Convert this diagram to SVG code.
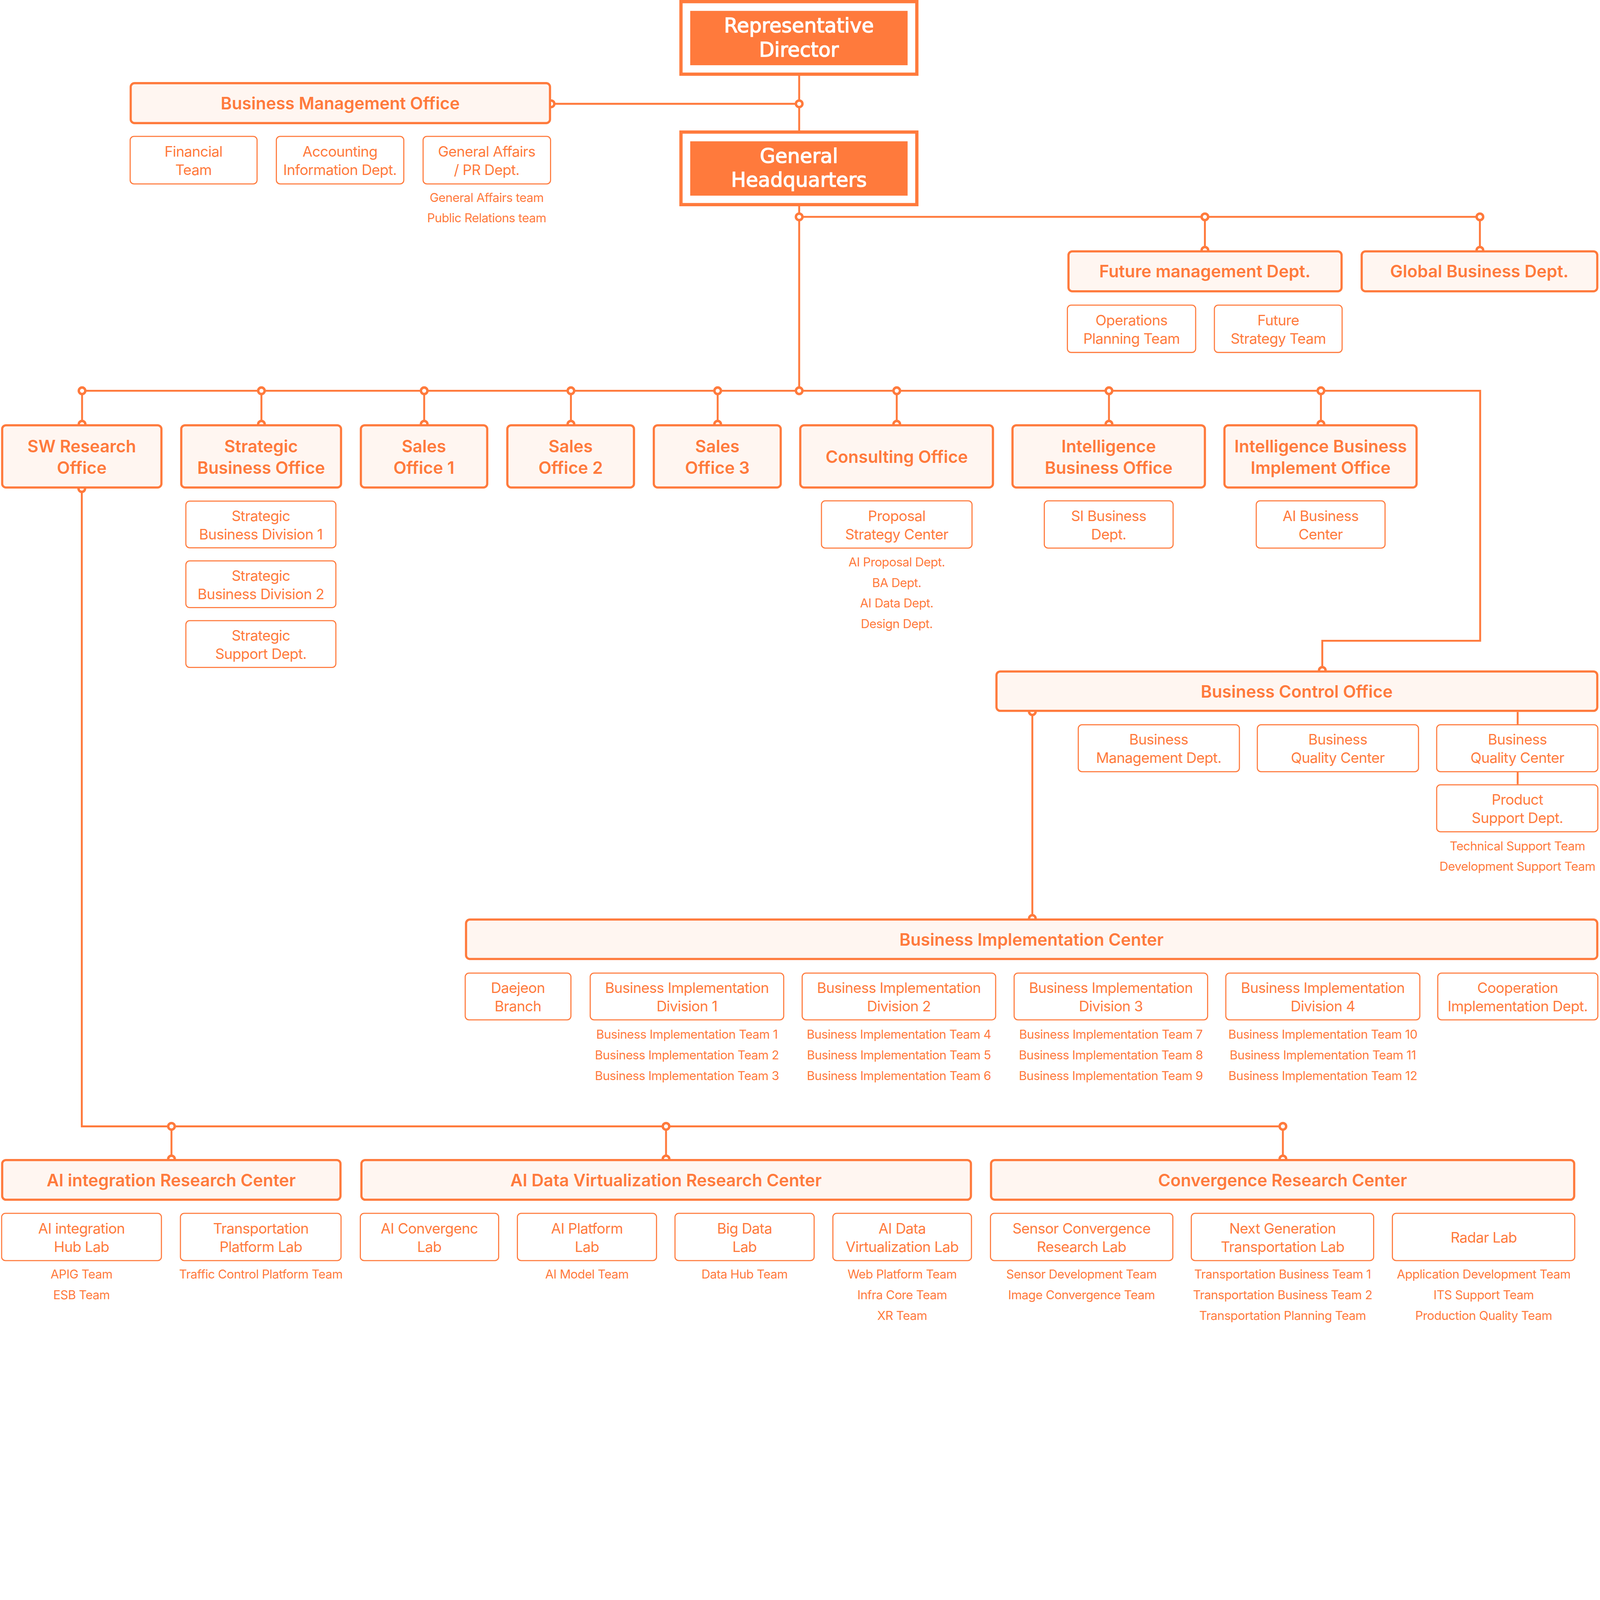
<svg xmlns="http://www.w3.org/2000/svg" width="5888" height="4870" viewBox="0 0 5888 4870" preserveAspectRatio="xMidYMin meet" style="width:100vw;height:100vh;display:block">
<style>
.bg{fill:#ffffff}
.t{fill:#FFF6F1;stroke:#FF7A3C;stroke-width:8}
.s{fill:#ffffff;stroke:#FF7A3C;stroke-width:4}
.ln{fill:none;stroke:#FF7A3C;stroke-width:7}
.j{fill:#ffffff;stroke:#FF7A3C;stroke-width:9}
.top{fill:#ffffff;stroke:#FF7A3C;stroke-width:12}
.topin{fill:#FF7A3C}
.tt{font-family:Inter,"Noto Sans",sans-serif;font-weight:600;font-size:62px;fill:#FF7A3C;text-anchor:middle}
.st{font-family:Inter,"Noto Sans",sans-serif;font-weight:400;font-size:53px;letter-spacing:-1px;fill:#FF7A3C;text-anchor:middle}
.sm{font-family:Inter,"Noto Sans",sans-serif;font-weight:400;font-size:45px;letter-spacing:-0.8px;fill:#FF7A3C;text-anchor:middle}
.ht{font-family:"DejaVu Sans",sans-serif;font-weight:400;font-size:73px;fill:#ffffff;stroke:#ffffff;stroke-width:2.5px;text-anchor:middle}
</style>
<rect class="bg" x="0" y="0" width="5888" height="4870"/>

<g id="connectors">
<line class="ln" x1="2941" y1="279" x2="2941" y2="480"/>
<line class="ln" x1="2028" y1="382" x2="2941" y2="382"/>
<line class="ln" x1="2941" y1="759" x2="2941" y2="1438"/>
<line class="ln" x1="2941" y1="798" x2="5446" y2="798"/>
<line class="ln" x1="4434" y1="798" x2="4434" y2="921"/>
<line class="ln" x1="5446" y1="798" x2="5446" y2="921"/>
<polyline class="ln" points="302,1438 5447,1438 5447,2358 4866,2358 4866,2467"/>
<line class="ln" x1="302" y1="1438" x2="302" y2="1561"/>
<line class="ln" x1="962" y1="1438" x2="962" y2="1561"/>
<line class="ln" x1="1561" y1="1438" x2="1561" y2="1561"/>
<line class="ln" x1="2101" y1="1438" x2="2101" y2="1561"/>
<line class="ln" x1="2641" y1="1438" x2="2641" y2="1561"/>
<line class="ln" x1="3300" y1="1438" x2="3300" y2="1561"/>
<line class="ln" x1="4081" y1="1438" x2="4081" y2="1561"/>
<line class="ln" x1="4861" y1="1438" x2="4861" y2="1561"/>
<polyline class="ln" points="301,1798 301,4145 4721,4145"/>
<line class="ln" x1="631" y1="4145" x2="631" y2="4265"/>
<line class="ln" x1="2451" y1="4145" x2="2451" y2="4265"/>
<line class="ln" x1="4721" y1="4145" x2="4721" y2="4265"/>
<line class="ln" x1="3799" y1="2619" x2="3799" y2="3380"/>
<line class="ln" x1="5585" y1="2620" x2="5585" y2="2665"/>
<line class="ln" x1="5585" y1="2842" x2="5585" y2="2886"/>
<g id="junctions">
<circle class="j" cx="2028" cy="382" r="12"/>
<circle class="j" cx="2941" cy="382" r="12"/>
<circle class="j" cx="2941" cy="798" r="12"/>
<circle class="j" cx="4434" cy="798" r="12"/>
<circle class="j" cx="5446" cy="798" r="12"/>
<circle class="j" cx="4434" cy="921" r="12"/>
<circle class="j" cx="5446" cy="921" r="12"/>
<circle class="j" cx="302" cy="1438" r="12"/>
<circle class="j" cx="962" cy="1438" r="12"/>
<circle class="j" cx="1561" cy="1438" r="12"/>
<circle class="j" cx="2101" cy="1438" r="12"/>
<circle class="j" cx="2641" cy="1438" r="12"/>
<circle class="j" cx="2941" cy="1438" r="12"/>
<circle class="j" cx="3300" cy="1438" r="12"/>
<circle class="j" cx="4081" cy="1438" r="12"/>
<circle class="j" cx="4861" cy="1438" r="12"/>
<circle class="j" cx="302" cy="1561" r="12"/>
<circle class="j" cx="962" cy="1561" r="12"/>
<circle class="j" cx="1561" cy="1561" r="12"/>
<circle class="j" cx="2101" cy="1561" r="12"/>
<circle class="j" cx="2641" cy="1561" r="12"/>
<circle class="j" cx="3300" cy="1561" r="12"/>
<circle class="j" cx="4081" cy="1561" r="12"/>
<circle class="j" cx="4861" cy="1561" r="12"/>
<circle class="j" cx="301" cy="1798" r="12"/>
<circle class="j" cx="4866" cy="2467" r="12"/>
<circle class="j" cx="3799" cy="2619" r="12"/>
<circle class="j" cx="3799" cy="3380" r="12"/>
<circle class="j" cx="631" cy="4145" r="12"/>
<circle class="j" cx="2451" cy="4145" r="12"/>
<circle class="j" cx="4721" cy="4145" r="12"/>
<circle class="j" cx="631" cy="4265" r="12"/>
<circle class="j" cx="2451" cy="4265" r="12"/>
<circle class="j" cx="4721" cy="4265" r="12"/>
</g>
</g>

<g id="rep-director">
<rect class="top" x="2506" y="6" width="868" height="267"/>
<rect class="topin" x="2540" y="40" width="800" height="200"/>
<text class="ht" x="2940" y="120">Representative</text>
<text class="ht" x="2940" y="208">Director</text>
</g>
<g id="general-hq">
<rect class="top" x="2506" y="486" width="868" height="267"/>
<rect class="topin" x="2540" y="520" width="800" height="200"/>
<text class="ht" x="2940" y="600">General</text>
<text class="ht" x="2940" y="687">Headquarters</text>
</g>

<g id="bmo">
<rect class="t" x="481" y="306" width="1543" height="147" rx="14"/>
<text class="tt" x="1252" y="402">Business Management Office</text>
</g>
<g id="financial-team">
<rect class="s" x="479" y="502" width="467" height="175" rx="14"/>
<text class="st" x="712" y="576">Financial</text>
<text class="st" x="712" y="644">Team</text>
</g>
<g id="accounting">
<rect class="s" x="1017" y="502" width="469" height="175" rx="14"/>
<text class="st" x="1251" y="576">Accounting</text>
<text class="st" x="1251" y="644">Information Dept.</text>
</g>
<g id="general-affairs">
<rect class="s" x="1557" y="502" width="469" height="175" rx="14"/>
<text class="st" x="1791" y="576">General Affairs</text>
<text class="st" x="1791" y="644">/ PR Dept.</text>
<text class="sm" x="1791" y="743">General Affairs team</text>
<text class="sm" x="1791" y="818">Public Relations team</text>
</g>

<g id="future-mgmt">
<rect class="t" x="3932" y="925" width="1005" height="147" rx="14"/>
<text class="tt" x="4434" y="1021">Future management Dept.</text>
</g>
<g id="global-business">
<rect class="t" x="5011" y="925" width="867" height="147" rx="14"/>
<text class="tt" x="5444" y="1021">Global Business Dept.</text>
</g>
<g id="ops-planning">
<rect class="s" x="3928" y="1123" width="472" height="174" rx="14"/>
<text class="st" x="4164" y="1197">Operations</text>
<text class="st" x="4164" y="1265">Planning Team</text>
</g>
<g id="future-strategy">
<rect class="s" x="4469" y="1123" width="470" height="174" rx="14"/>
<text class="st" x="4704" y="1197">Future</text>
<text class="st" x="4704" y="1265">Strategy Team</text>
</g>

<g id="sw-research">
<rect class="t" x="8" y="1565" width="586" height="229" rx="14"/>
<text class="tt" x="301" y="1664">SW Research</text>
<text class="tt" x="301" y="1744">Office</text>
</g>
<g id="strategic-office">
<rect class="t" x="667" y="1565" width="588" height="229" rx="14"/>
<text class="tt" x="961" y="1664">Strategic</text>
<text class="tt" x="961" y="1744">Business Office</text>
</g>
<g id="sales1">
<rect class="t" x="1328" y="1565" width="465" height="229" rx="14"/>
<text class="tt" x="1560" y="1664">Sales</text>
<text class="tt" x="1560" y="1744">Office 1</text>
</g>
<g id="sales2">
<rect class="t" x="1867" y="1565" width="466" height="229" rx="14"/>
<text class="tt" x="2100" y="1664">Sales</text>
<text class="tt" x="2100" y="1744">Office 2</text>
</g>
<g id="sales3">
<rect class="t" x="2406" y="1565" width="467" height="229" rx="14"/>
<text class="tt" x="2640" y="1664">Sales</text>
<text class="tt" x="2640" y="1744">Office 3</text>
</g>
<g id="consulting">
<rect class="t" x="2945" y="1565" width="709" height="229" rx="14"/>
<text class="tt" x="3300" y="1704">Consulting Office</text>
</g>
<g id="intelligence-office">
<rect class="t" x="3726" y="1565" width="708" height="229" rx="14"/>
<text class="tt" x="4080" y="1664">Intelligence</text>
<text class="tt" x="4080" y="1744">Business Office</text>
</g>
<g id="intelligence-implement">
<rect class="t" x="4506" y="1565" width="707" height="229" rx="14"/>
<text class="tt" x="4860" y="1664">Intelligence Business</text>
<text class="tt" x="4860" y="1744">Implement Office</text>
</g>

<g id="sbd1">
<rect class="s" x="684" y="1844" width="552" height="172" rx="14"/>
<text class="st" x="960" y="1917">Strategic</text>
<text class="st" x="960" y="1985">Business Division 1</text>
</g>
<g id="sbd2">
<rect class="s" x="684" y="2064" width="552" height="172" rx="14"/>
<text class="st" x="960" y="2137">Strategic</text>
<text class="st" x="960" y="2205">Business Division 2</text>
</g>
<g id="ssd">
<rect class="s" x="684" y="2284" width="552" height="172" rx="14"/>
<text class="st" x="960" y="2357">Strategic</text>
<text class="st" x="960" y="2425">Support Dept.</text>
</g>
<g id="proposal">
<rect class="s" x="3023" y="1843" width="554" height="174" rx="14"/>
<text class="st" x="3300" y="1917">Proposal</text>
<text class="st" x="3300" y="1985">Strategy Center</text>
<text class="sm" x="3300" y="2085">AI Proposal Dept.</text>
<text class="sm" x="3300" y="2160">BA Dept.</text>
<text class="sm" x="3300" y="2236">AI Data Dept.</text>
<text class="sm" x="3300" y="2312">Design Dept.</text>
</g>
<g id="si-business">
<rect class="s" x="3843" y="1843" width="474" height="174" rx="14"/>
<text class="st" x="4080" y="1917">SI Business</text>
<text class="st" x="4080" y="1985">Dept.</text>
</g>
<g id="ai-business">
<rect class="s" x="4623" y="1843" width="474" height="174" rx="14"/>
<text class="st" x="4860" y="1917">AI Business</text>
<text class="st" x="4860" y="1985">Center</text>
</g>

<g id="bco">
<rect class="t" x="3667" y="2471" width="2211" height="145" rx="14"/>
<text class="tt" x="4772" y="2567">Business Control Office</text>
</g>
<g id="bmd">
<rect class="s" x="3968" y="2667" width="593" height="173" rx="14"/>
<text class="st" x="4264" y="2740">Business</text>
<text class="st" x="4264" y="2808">Management Dept.</text>
</g>
<g id="bqc1">
<rect class="s" x="4627" y="2667" width="593" height="173" rx="14"/>
<text class="st" x="4923" y="2740">Business</text>
<text class="st" x="4923" y="2808">Quality Center</text>
</g>
<g id="bqc2">
<rect class="s" x="5287" y="2667" width="593" height="173" rx="14"/>
<text class="st" x="5584" y="2740">Business</text>
<text class="st" x="5584" y="2808">Quality Center</text>
</g>
<g id="psd">
<rect class="s" x="5287" y="2888" width="593" height="173" rx="14"/>
<text class="st" x="5584" y="2961">Product</text>
<text class="st" x="5584" y="3029">Support Dept.</text>
<text class="sm" x="5584" y="3129">Technical Support Team</text>
<text class="sm" x="5584" y="3204">Development Support Team</text>
</g>

<g id="bic">
<rect class="t" x="1715" y="3384" width="4163" height="145" rx="14"/>
<text class="tt" x="3796" y="3480">Business Implementation Center</text>
</g>
<g id="daejeon">
<rect class="s" x="1712" y="3581" width="389" height="172" rx="14"/>
<text class="st" x="1906" y="3654">Daejeon</text>
<text class="st" x="1906" y="3722">Branch</text>
</g>
<g id="bid1">
<rect class="s" x="2172" y="3581" width="712" height="172" rx="14"/>
<text class="st" x="2528" y="3654">Business Implementation</text>
<text class="st" x="2528" y="3722">Division 1</text>
<text class="sm" x="2528" y="3823">Business Implementation Team 1</text>
<text class="sm" x="2528" y="3899">Business Implementation Team 2</text>
<text class="sm" x="2528" y="3975">Business Implementation Team 3</text>
</g>
<g id="bid2">
<rect class="s" x="2952" y="3581" width="712" height="172" rx="14"/>
<text class="st" x="3308" y="3654">Business Implementation</text>
<text class="st" x="3308" y="3722">Division 2</text>
<text class="sm" x="3308" y="3823">Business Implementation Team 4</text>
<text class="sm" x="3308" y="3899">Business Implementation Team 5</text>
<text class="sm" x="3308" y="3975">Business Implementation Team 6</text>
</g>
<g id="bid3">
<rect class="s" x="3732" y="3581" width="712" height="172" rx="14"/>
<text class="st" x="4088" y="3654">Business Implementation</text>
<text class="st" x="4088" y="3722">Division 3</text>
<text class="sm" x="4088" y="3823">Business Implementation Team 7</text>
<text class="sm" x="4088" y="3899">Business Implementation Team 8</text>
<text class="sm" x="4088" y="3975">Business Implementation Team 9</text>
</g>
<g id="bid4">
<rect class="s" x="4511" y="3581" width="714" height="172" rx="14"/>
<text class="st" x="4868" y="3654">Business Implementation</text>
<text class="st" x="4868" y="3722">Division 4</text>
<text class="sm" x="4868" y="3823">Business Implementation Team 10</text>
<text class="sm" x="4868" y="3899">Business Implementation Team 11</text>
<text class="sm" x="4868" y="3975">Business Implementation Team 12</text>
</g>
<g id="coop">
<rect class="s" x="5291" y="3581" width="589" height="172" rx="14"/>
<text class="st" x="5585" y="3654">Cooperation</text>
<text class="st" x="5585" y="3722">Implementation Dept.</text>
</g>

<g id="ai-integration-rc">
<rect class="t" x="8" y="4269" width="1245" height="146" rx="14"/>
<text class="tt" x="630" y="4365">AI integration Research Center</text>
</g>
<g id="ai-data-virtualization-rc">
<rect class="t" x="1330" y="4269" width="2243" height="146" rx="14"/>
<text class="tt" x="2451" y="4365">AI Data Virtualization Research Center</text>
</g>
<g id="convergence-rc">
<rect class="t" x="3647" y="4269" width="2146" height="146" rx="14"/>
<text class="tt" x="4720" y="4365">Convergence Research Center</text>
</g>

<g id="hub-lab">
<rect class="s" x="6" y="4465" width="588" height="174" rx="14"/>
<text class="st" x="300" y="4539">AI integration</text>
<text class="st" x="300" y="4607">Hub Lab</text>
<text class="sm" x="300" y="4705">APIG Team</text>
<text class="sm" x="300" y="4781">ESB Team</text>
</g>
<g id="transport-platform-lab">
<rect class="s" x="664" y="4465" width="591" height="174" rx="14"/>
<text class="st" x="960" y="4539">Transportation</text>
<text class="st" x="960" y="4607">Platform Lab</text>
<text class="sm" x="960" y="4705">Traffic Control Platform Team</text>
</g>
<g id="ai-convergenc-lab">
<rect class="s" x="1326" y="4465" width="509" height="174" rx="14"/>
<text class="st" x="1580" y="4539">AI Convergenc</text>
<text class="st" x="1580" y="4607">Lab</text>
</g>
<g id="ai-platform-lab">
<rect class="s" x="1904" y="4465" width="512" height="174" rx="14"/>
<text class="st" x="2160" y="4539">AI Platform</text>
<text class="st" x="2160" y="4607">Lab</text>
<text class="sm" x="2160" y="4705">AI Model Team</text>
</g>
<g id="big-data-lab">
<rect class="s" x="2484" y="4465" width="512" height="174" rx="14"/>
<text class="st" x="2740" y="4539">Big Data</text>
<text class="st" x="2740" y="4607">Lab</text>
<text class="sm" x="2740" y="4705">Data Hub Team</text>
</g>
<g id="ai-data-virtualization-lab">
<rect class="s" x="3065" y="4465" width="510" height="174" rx="14"/>
<text class="st" x="3320" y="4539">AI Data</text>
<text class="st" x="3320" y="4607">Virtualization Lab</text>
<text class="sm" x="3320" y="4705">Web Platform Team</text>
<text class="sm" x="3320" y="4781">Infra Core Team</text>
<text class="sm" x="3320" y="4857">XR Team</text>
</g>
<g id="sensor-lab">
<rect class="s" x="3645" y="4465" width="671" height="174" rx="14"/>
<text class="st" x="3980" y="4539">Sensor Convergence</text>
<text class="st" x="3980" y="4607">Research Lab</text>
<text class="sm" x="3980" y="4705">Sensor Development Team</text>
<text class="sm" x="3980" y="4781">Image Convergence Team</text>
</g>
<g id="next-gen-lab">
<rect class="s" x="4384" y="4465" width="671" height="174" rx="14"/>
<text class="st" x="4720" y="4539">Next Generation</text>
<text class="st" x="4720" y="4607">Transportation Lab</text>
<text class="sm" x="4720" y="4705">Transportation Business Team 1</text>
<text class="sm" x="4720" y="4781">Transportation Business Team 2</text>
<text class="sm" x="4720" y="4857">Transportation Planning Team</text>
</g>
<g id="radar-lab">
<rect class="s" x="5124" y="4465" width="671" height="174" rx="14"/>
<text class="st" x="5460" y="4572">Radar Lab</text>
<text class="sm" x="5460" y="4705">Application Development Team</text>
<text class="sm" x="5460" y="4781">ITS Support Team</text>
<text class="sm" x="5460" y="4857">Production Quality Team</text>
</g>
</svg>
